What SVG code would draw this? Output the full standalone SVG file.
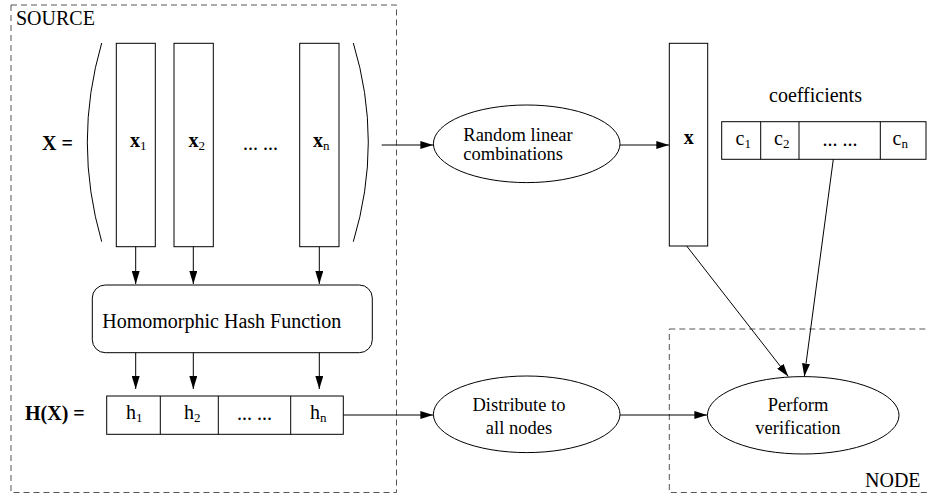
<svg xmlns="http://www.w3.org/2000/svg" width="927" height="498" viewBox="0 0 927 498" font-family="'Liberation Serif', 'DejaVu Serif', serif">
  <style>
    .box { fill: none; stroke: #000; stroke-width: 1; }
    .dash { fill: none; stroke: #555; stroke-width: 1; stroke-dasharray: 6 4; }
    .edge { fill: none; stroke: #000; stroke-width: 1; }
    text { font-family: 'Liberation Serif', 'DejaVu Serif', serif; font-size: 20px; fill: #000; }
    .b { font-weight: bold; }
    .sub { font-size: 13px; font-weight: normal; }
    .mid { text-anchor: middle; }
    .two { font-size: 18.5px; }
  </style>
  <defs>
    <marker id="arrow" markerUnits="userSpaceOnUse" markerWidth="13" markerHeight="8" refX="13" refY="4" orient="auto">
      <path d="M0,0 L13,4 L0,8 z" fill="#000"/>
    </marker>
  </defs>
  <rect width="927" height="498" fill="#fff"/>

  <!-- source region -->
  <g id="source">
    <rect class="dash" x="11" y="5" width="385.5" height="487.5"/>
    <text x="16" y="25">SOURCE</text>
  </g>

  <!-- data matrix X -->
  <g id="matrix-x">
    <text class="b" x="42" y="149.5">X =</text>
    <path class="edge" d="M101.7,43 Q72.9,142 101.7,241.7"/>
    <path class="edge" d="M353.3,43 Q383.3,142 353.3,241.7"/>
    <rect class="box" x="116.3" y="43.3" width="39" height="203.4"/>
    <rect class="box" x="174" y="43.3" width="39.3" height="203.4"/>
    <rect class="box" x="299.7" y="43.3" width="39.3" height="203.4"/>
    <text class="b" x="130" y="147">x<tspan class="sub" dy="3">1</tspan></text>
    <text class="b" x="188.5" y="147">x<tspan class="sub" dy="3">2</tspan></text>
    <text class="b" x="313" y="147">x<tspan class="sub" dy="3">n</tspan></text>
    <text x="243" y="150">... ...</text>
  </g>

  <!-- hash function -->
  <g id="hash">
    <rect class="box" x="92.3" y="285" width="280" height="67.7" rx="13" ry="13"/>
    <text x="102.3" y="328.3">Homomorphic Hash Function</text>
  </g>

  <!-- hash values H(X) -->
  <g id="hash-values">
    <text class="b" x="25" y="420">H(X) =</text>
    <rect class="box" x="106.7" y="396" width="236.6" height="38.3"/>
    <line class="box" x1="160.3" y1="396" x2="160.3" y2="434.3"/>
    <line class="box" x1="218.3" y1="396" x2="218.3" y2="434.3"/>
    <line class="box" x1="290.7" y1="396" x2="290.7" y2="434.3"/>
    <text x="126" y="419">h<tspan class="sub" dy="3">1</tspan></text>
    <text x="184" y="419">h<tspan class="sub" dy="3">2</tspan></text>
    <text class="mid" x="254.5" y="420">... ...</text>
    <text x="310" y="419">h<tspan class="sub" dy="3">n</tspan></text>
  </g>

  <!-- random linear combinations -->
  <g id="random">
    <ellipse class="box" cx="526.7" cy="143.8" rx="93.3" ry="38.8"/>
    <text class="two" x="463.3" y="140.5">Random linear</text>
    <text class="two" x="463.3" y="159.5">combinations</text>
  </g>

  <!-- coded vector x -->
  <g id="vector-x">
    <rect class="box" x="669.3" y="43.3" width="38.4" height="202.7"/>
    <text class="b mid" x="688.7" y="144">x</text>
  </g>

  <!-- coefficients -->
  <g id="coefficients">
    <text class="mid" x="815.5" y="101.7">coefficients</text>
    <rect class="box" x="721.7" y="121.7" width="204.3" height="37.6"/>
    <line class="box" x1="760.7" y1="121.7" x2="760.7" y2="159.3"/>
    <line class="box" x1="799" y1="121.7" x2="799" y2="159.3"/>
    <line class="box" x1="880.3" y1="121.7" x2="880.3" y2="159.3"/>
    <text x="735.5" y="145">c<tspan class="sub" dy="3">1</tspan></text>
    <text x="774" y="145">c<tspan class="sub" dy="3">2</tspan></text>
    <text class="mid" x="840" y="146">... ...</text>
    <text x="892.5" y="145">c<tspan class="sub" dy="3">n</tspan></text>
  </g>

  <!-- distribution -->
  <g id="distribute">
    <ellipse class="box" cx="526.7" cy="414.3" rx="93.3" ry="38.3"/>
    <text class="mid two" x="519" y="411">Distribute to</text>
    <text class="mid two" x="519" y="434">all nodes</text>
  </g>

  <!-- receiving node -->
  <g id="node">
    <rect class="dash" x="669.3" y="329" width="262" height="163.5"/>
    <text x="865" y="487.3">NODE</text>
  </g>

  <!-- verification -->
  <g id="verify">
    <ellipse class="box" cx="803.2" cy="415.3" rx="95.8" ry="38.7"/>
    <text class="mid two" x="798" y="411">Perform</text>
    <text class="mid two" x="798" y="434">verification</text>
  </g>

  <!-- connectors -->
  <g id="connectors" class="edge">
    <line x1="381.7" y1="145" x2="433.4" y2="145" marker-end="url(#arrow)"/>
    <line x1="620" y1="145" x2="669.3" y2="145" marker-end="url(#arrow)"/>
    <line x1="135.7" y1="246.7" x2="135.7" y2="284" marker-end="url(#arrow)"/>
    <line x1="193.3" y1="246.7" x2="193.3" y2="284" marker-end="url(#arrow)"/>
    <line x1="319.3" y1="246.7" x2="319.3" y2="284" marker-end="url(#arrow)"/>
    <line x1="135.7" y1="352.7" x2="135.7" y2="389" marker-end="url(#arrow)"/>
    <line x1="193.3" y1="352.7" x2="193.3" y2="389" marker-end="url(#arrow)"/>
    <line x1="319.3" y1="352.7" x2="319.3" y2="389" marker-end="url(#arrow)"/>
    <line x1="343.3" y1="415" x2="433.4" y2="415" marker-end="url(#arrow)"/>
    <line x1="620" y1="415" x2="707.4" y2="415" marker-end="url(#arrow)"/>
    <line x1="686.7" y1="246" x2="788.3" y2="376.5" marker-end="url(#arrow)"/>
    <line x1="833.3" y1="159.3" x2="804.3" y2="376.5" marker-end="url(#arrow)"/>
  </g>
</svg>
